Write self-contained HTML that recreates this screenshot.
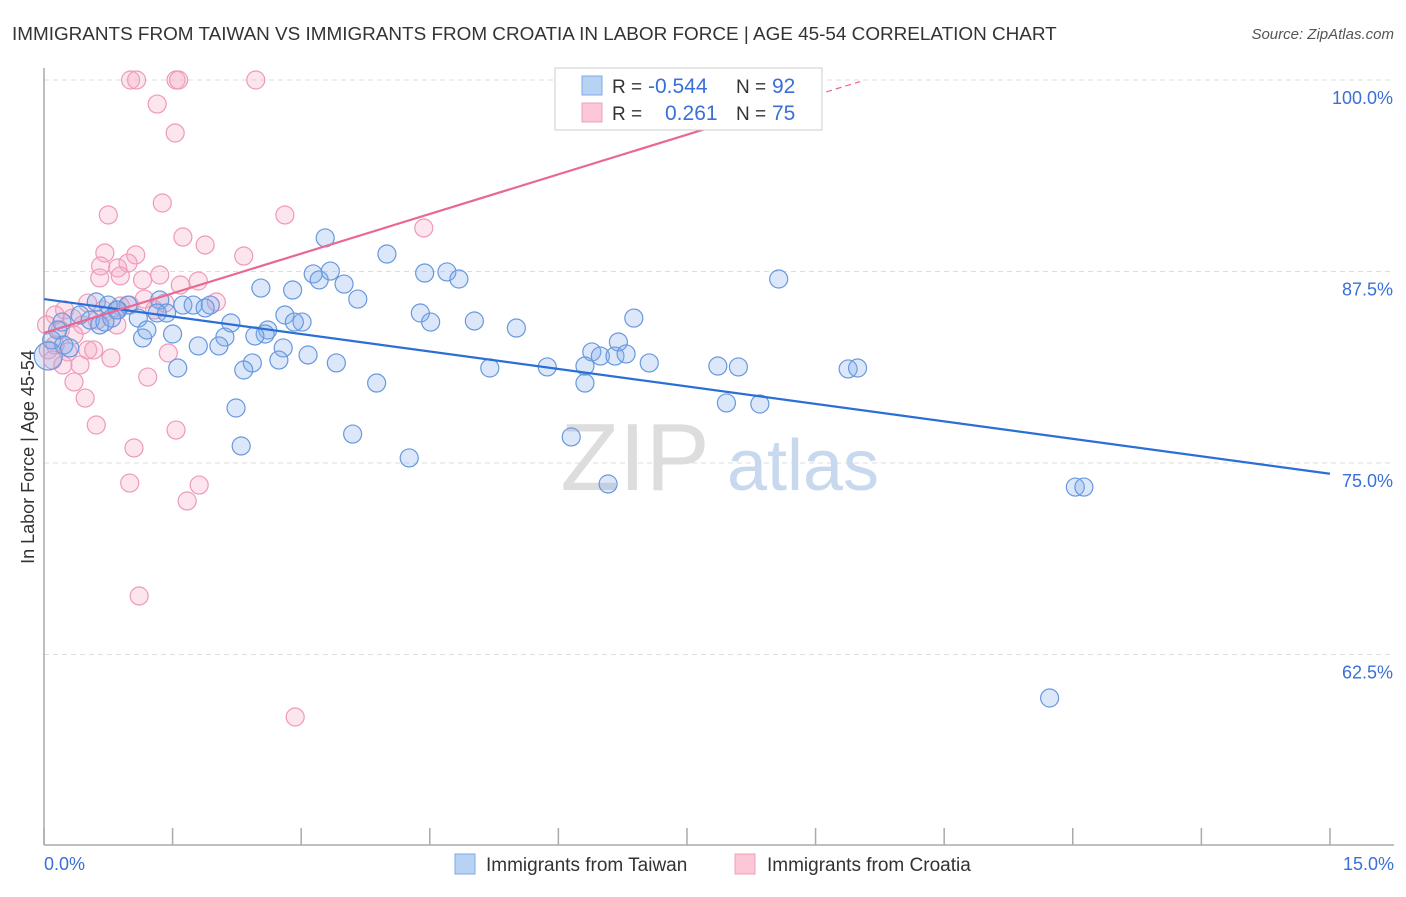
<!DOCTYPE html>
<html><head><meta charset="utf-8"><style>
body{margin:0;background:#fff;font-family:"Liberation Sans",sans-serif;}
svg text{font-family:"Liberation Sans",sans-serif;}
</style></head><body>
<svg id="chart" width="1406" height="892" viewBox="0 0 1406 892" xmlns="http://www.w3.org/2000/svg">
<text x="12" y="40" font-size="18.9" fill="#333">IMMIGRANTS FROM TAIWAN VS IMMIGRANTS FROM CROATIA IN LABOR FORCE | AGE 45-54 CORRELATION CHART</text>
<text x="1394" y="39" font-size="15" fill="#555" font-style="italic" text-anchor="end">Source: ZipAtlas.com</text>
<g id="grid"></g>
<g>
<text x="635" y="490" font-size="96" fill="#ddd" font-family="Liberation Serif" text-anchor="middle">ZIP</text>
<text x="803" y="490" font-size="72" fill="#c8d8ee" text-anchor="middle">atlas</text>
</g>
<line x1="44" y1="68" x2="44" y2="845" stroke="#aaa" stroke-width="1.5"/>
<line x1="44" y1="845" x2="1394" y2="845" stroke="#aaa" stroke-width="1.5"/>
<g id="xticks"></g>
<g id="ylabels"></g>
<text x="44" y="870" font-size="18" fill="#3a6fd8">0.0%</text>
<text x="1394" y="870" font-size="18" fill="#3a6fd8" text-anchor="end">15.0%</text>
<text transform="translate(34,457) rotate(-90)" font-size="18" fill="#333" text-anchor="middle">In Labor Force | Age 45-54</text>
<g id="pink"></g>
<g id="blue"></g>
<g id="trends"></g>
<g>
<rect x="555" y="68" width="267" height="62" fill="#fff" stroke="#ccc"/>
<rect x="582" y="76" width="20" height="19" fill="#b8d2f4" stroke="#7fa8e6"/>
<rect x="582" y="103" width="20" height="19" fill="#fcc8d8" stroke="#eea0b8"/>
<text x="612" y="93" font-size="19" fill="#333">R =</text>
<text x="648" y="93" font-size="21" fill="#3a6fd8">-0.544</text>
<text x="736" y="93" font-size="19" fill="#333">N =</text>
<text x="772" y="93" font-size="21" fill="#3a6fd8">92</text>
<text x="612" y="120" font-size="19" fill="#333">R =</text>
<text x="665" y="120" font-size="21" fill="#3a6fd8">0.261</text>
<text x="736" y="120" font-size="19" fill="#333">N =</text>
<text x="772" y="120" font-size="21" fill="#3a6fd8">75</text>
</g>
<g>
<rect x="455" y="854" width="20" height="20" fill="#b8d2f4" stroke="#7fa8e6"/>
<text x="486" y="871" font-size="19" fill="#333">Immigrants from Taiwan</text>
<rect x="735" y="854" width="20" height="20" fill="#fcc8d8" stroke="#eea0b8"/>
<text x="767" y="871" font-size="19" fill="#333">Immigrants from Croatia</text>
</g>
</svg>
<script>
const yTicks=[100,87.5,75,62.5];
const yTickLabels=["100.0%","87.5%","75.0%","62.5%"];
const xTicks=[0,1.5,3,4.5,6,7.5,9,10.5,12,13.5,15];
const taiwanX=[3.28,4.00,3.14,3.34,3.21,3.50,4.44,4.70,4.84,8.57,2.53,2.90,3.66,0.61,1.35,1.62,1.74,1.94,1.88,0.98,0.86,0.75,0.42,1.10,1.43,1.32,4.39,4.51,5.02,5.51,6.88,2.81,3.01,2.92,2.18,2.61,2.58,2.46,1.50,1.15,2.11,1.20,0.21,0.16,0.09,0.23,0.30,0.05,6.70,6.39,6.49,6.66,6.79,7.06,7.86,8.10,5.87,5.20,1.80,2.04,2.79,3.08,3.41,2.43,2.33,2.74,1.56,3.88,6.31,6.31,7.96,8.35,2.24,3.60,6.15,2.30,4.26,6.58,9.38,9.49,12.03,12.13,11.73,0.85,0.54,0.65,0.79,0.71];
const taiwanY=[89.69,88.64,87.34,87.53,86.95,86.68,87.40,87.47,87.01,87.01,86.42,86.29,85.70,85.51,85.64,85.31,85.31,85.31,85.12,85.31,84.99,85.31,84.66,84.46,84.79,84.79,84.79,84.20,84.27,83.81,84.46,84.66,84.20,84.20,84.14,83.68,83.42,83.29,83.42,83.16,83.22,83.68,84.20,83.68,83.03,82.70,82.51,81.98,82.90,82.25,81.98,81.98,82.12,81.53,81.33,81.27,81.27,81.20,82.64,82.64,82.51,82.05,81.53,81.53,81.07,81.72,81.20,80.22,80.22,81.33,78.92,78.85,78.59,76.89,76.70,76.11,75.33,73.63,81.14,81.20,73.43,73.43,59.66,84.99,84.33,84.01,84.46,84.20];
const croatiaX=[1.01,1.08,1.54,1.57,2.47,1.32,1.53,0.75,1.38,2.81,4.43,1.62,1.88,2.33,0.71,1.07,0.66,0.98,0.86,0.89,0.65,1.15,1.35,1.80,1.59,1.41,2.01,1.17,1.00,1.29,0.89,0.69,0.51,0.24,0.13,0.33,0.62,0.45,0.85,0.03,0.19,0.35,0.13,0.28,0.51,0.58,0.05,0.10,0.42,0.78,1.45,1.21,0.22,0.35,0.48,0.61,1.05,1.54,1.00,1.81,1.67,1.11,2.93];
const croatiaY=[100,100,100,100,100,98.43,96.54,91.19,91.97,91.19,90.34,89.75,89.23,88.51,88.71,88.58,87.86,88.05,87.73,87.21,87.08,86.95,87.27,86.88,86.62,85.44,85.51,85.70,85.31,84.99,85.25,84.99,85.44,84.99,84.66,84.46,84.33,84.01,84.01,84.01,83.68,83.36,82.70,82.25,82.38,82.38,82.38,81.72,81.40,81.85,82.18,80.61,81.40,80.29,79.24,77.48,75.98,77.15,73.69,73.56,72.52,66.32,58.42];
const taiwanTrend=[[0,85.7],[15,74.3]];
const croatiaTrend=[[0,83.49],[8.12,97.5]];
const croatiaTrendDash=[[8.12,97.5],[9.52,99.9]];
const sx=v=>44+v*85.73, sy=v=>80+(100-v)*15.32;
const NS="http://www.w3.org/2000/svg";
function mk(t,a,p){const e=document.createElementNS(NS,t);for(const k in a)e.setAttribute(k,a[k]);p.appendChild(e);return e;}
const grid=document.getElementById('grid'), yl=document.getElementById('ylabels');
yTicks.forEach((v,i)=>{
 const l=mk('line',{x1:44,x2:1394,y1:sy(v),y2:sy(v),stroke:'#ddd','stroke-dasharray':'5,4'},grid);
 
 
 const t=mk('text',{x:1393,y:sy(v)+24,'font-size':18,fill:'#3a6fd8','text-anchor':'end'},yl);
 t.textContent=yTickLabels[i];
 
 
});
const xt=document.getElementById('xticks');
xTicks.forEach(v=>{
 const l=mk('line',{x1:sx(v),x2:sx(v),y1:828,y2:845,stroke:'#aaa','stroke-width':1.5},xt);
 
 
});
const pg=document.getElementById('pink');
croatiaX.forEach((x,i)=>{
 const c=mk('circle',{cx:sx(x),cy:sy(croatiaY[i]),r:9,fill:'rgba(246,170,198,0.3)',stroke:'#ee9ab6','stroke-width':1.2},pg);
 
 
});
const bg=document.getElementById('blue');
taiwanX.forEach((x,i)=>{
 const c=mk('circle',{cx:sx(x),cy:sy(taiwanY[i]),r:i==47?14:9,fill:'rgba(130,172,238,0.28)',stroke:'#6798de','stroke-width':1.2},bg);
 
 
});
const tg=document.getElementById('trends');
const a=mk('line',{x1:sx(taiwanTrend[0][0]),y1:sy(taiwanTrend[0][1]),x2:sx(taiwanTrend[1][0]),y2:sy(taiwanTrend[1][1]),stroke:'#2a6fd6','stroke-width':2.2},tg);


const b=mk('line',{x1:sx(croatiaTrend[0][0]),y1:sy(croatiaTrend[0][1]),x2:sx(croatiaTrend[1][0]),y2:sy(croatiaTrend[1][1]),stroke:'#e86892','stroke-width':2.2},tg);


const d=mk('line',{x1:sx(croatiaTrendDash[0][0]),y1:sy(croatiaTrendDash[0][1]),x2:sx(croatiaTrendDash[1][0]),y2:sy(croatiaTrendDash[1][1]),stroke:'#e86892','stroke-width':1.2,'stroke-dasharray':'6,4'},tg);


</script>
</body></html>
